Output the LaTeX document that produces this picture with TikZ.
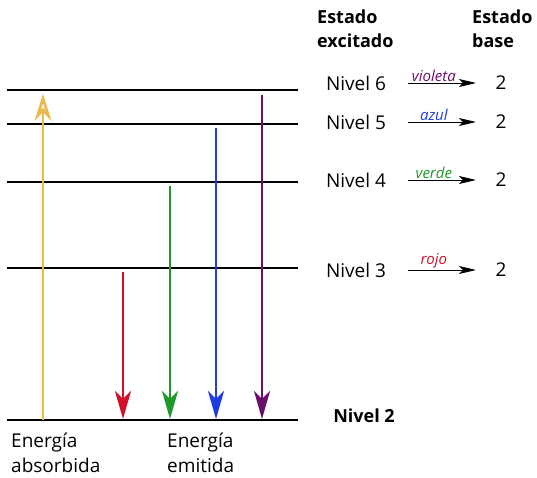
\documentclass[tikz,border=0pt]{standalone}
\usepackage{fontspec}
\setmainfont{Open Sans}
\usepackage{tikz}
\usetikzlibrary{arrows.meta,positioning}

\definecolor{amarillo}{RGB}{234,185,76}
\definecolor{rojo}{RGB}{210,16,44}
\definecolor{verde}{RGB}{30,152,40}
\definecolor{azul}{RGB}{30,60,225}
\definecolor{violeta}{RGB}{106,14,106}

\begin{document}
\begin{tikzpicture}[x=1pt,y=-1pt]
			\tikzstyle{Level}	= [line width=2.6pt, black]
			\tikzstyle{Emit}	= [line width=2.4pt, -{Stealth[length=28pt,width=16pt,inset=8pt]}]
			\tikzstyle{Absorb}	= [line width=2.8pt, amarillo, -{Stealth[open,length=27pt,width=17pt,inset=9pt]}]
			\tikzstyle{Small}	= [line width=1pt, -{Stealth[length=17pt,width=8pt,inset=4pt]}]
			\tikzstyle{Txt}		= [inner sep=0pt, font=\fontsize{19}{20}\selectfont]
			\tikzstyle{Head}	= [Txt, align=left, anchor=north west, font=\fontsize{18}{24}\selectfont\bfseries]
			\tikzstyle{Color}	= [inner sep=0pt, anchor=south, font=\fontsize{15}{16}\selectfont\itshape]

			\useasboundingbox (0,0) rectangle (537,477);

			% niveles de energia
			\foreach \n/\y in {6/90, 5/124, 4/182, 3/268, 2/420} {
				\coordinate (L\n a) at (7,\y);
				\coordinate (L\n b) at (298,\y);
				\draw [Level] (L\n a) -- (L\n b);
			}

			% absorcion y emision
			\coordinate (ya) at (43,420);	\coordinate (yb) at (43,94);
			\coordinate (ra) at (123,272);	\coordinate (rb) at (123,419);
			\coordinate (ga) at (170,186);	\coordinate (gb) at (170,419);
			\coordinate (ba) at (216,128);	\coordinate (bb) at (216,419);
			\coordinate (va) at (262,95);	\coordinate (vb) at (262,419);
			\draw [Absorb] (ya) -- (yb);
			\draw [Emit, rojo] (ra) -- (rb);
			\draw [Emit, verde] (ga) -- (gb);
			\draw [Emit, azul] (ba) -- (bb);
			\draw [Emit, violeta] (va) -- (vb);

			% encabezados
			\node (hexc) at (317,10) [Head] {Estado\\excitado};
			\node (hbase) at (472,10) [Head] {Estado\\base};

			% transiciones
			\foreach \n/\y/\c in {6/83/violeta, 5/122/azul, 4/180/verde, 3/270/rojo} {
				\node (N\n) at (356,\y) [Txt] {Nivel \n};
				\node (D\n) at (501,\y) [Txt] {2};
				\coordinate (S\n a) at (408,\y);
				\coordinate (S\n b) at (476,\y);
				\draw [Small] (S\n a) -- (S\n b) node [Color, \c, pos=0.38, above=1pt] {\c};
			}

			\node (N2) at (364,416) [Txt, font=\fontsize{18}{20}\selectfont\bfseries] {Nivel 2};

			% rotulos inferiores
			\node (abs) at (11,433) [Head, font=\fontsize{19}{25}\selectfont] {Energía\\absorbida};
			\node (emi) at (167,433) [Head, font=\fontsize{19}{25}\selectfont] {Energía\\emitida};
		\end{tikzpicture}
\end{document}
